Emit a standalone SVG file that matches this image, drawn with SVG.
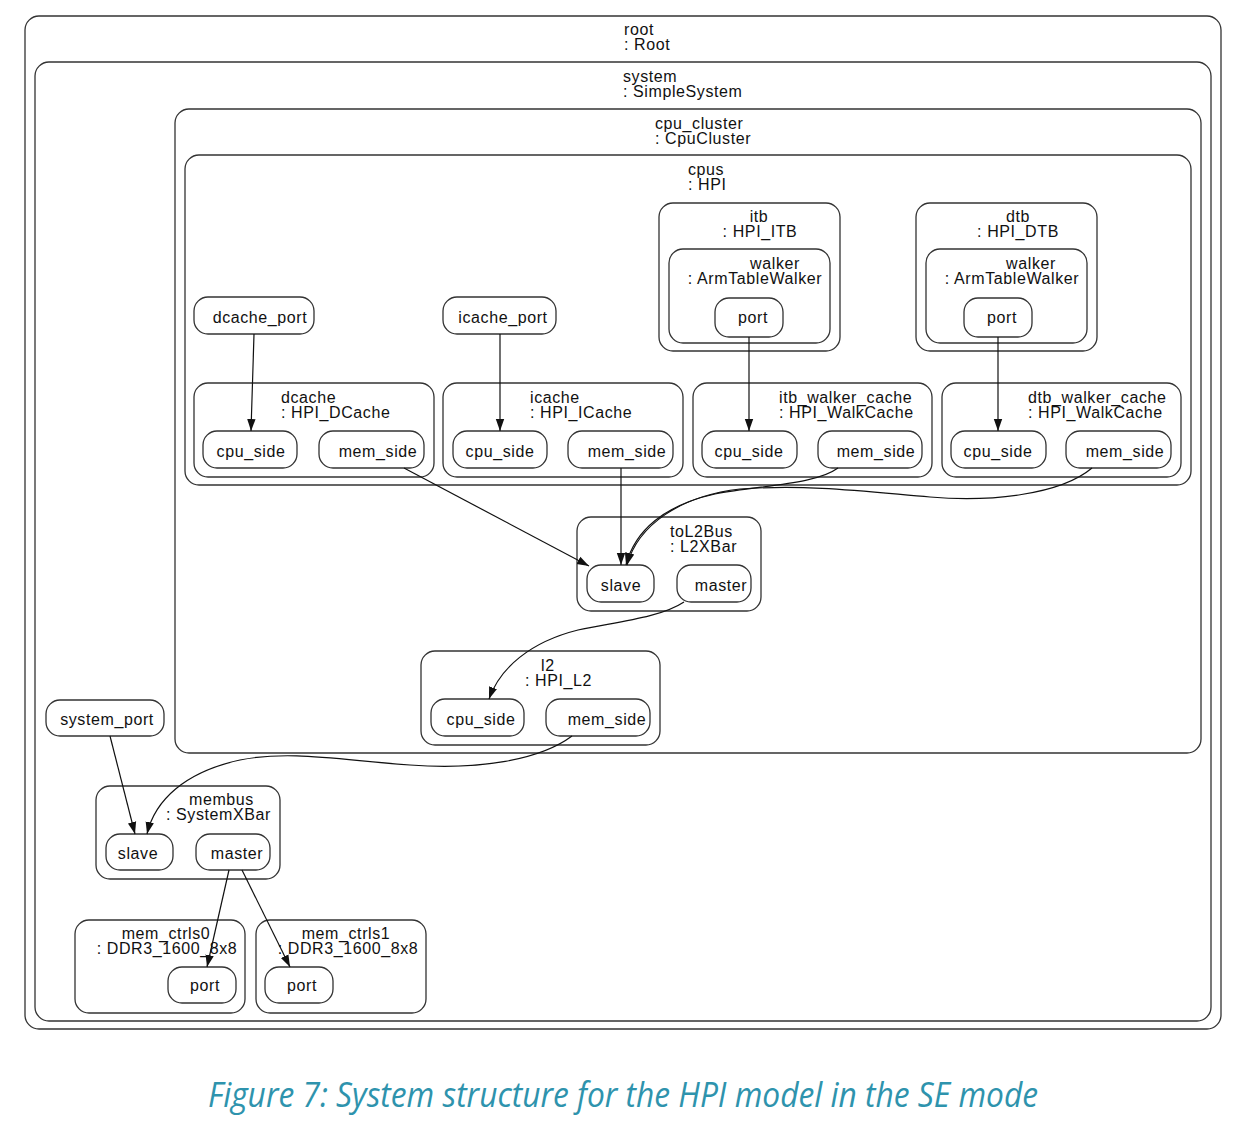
<svg xmlns="http://www.w3.org/2000/svg" width="1240" height="1130" viewBox="0 0 1240 1130">
<defs>
<style>
.c{fill:none;stroke:#333;stroke-width:1.3}
.p{fill:#fff;stroke:#333;stroke-width:1.3}
text{font-family:"Liberation Sans",Arial,sans-serif;font-size:16px;letter-spacing:0.6px;fill:#111}
.m{text-anchor:middle}
.e{fill:none;stroke:#111;stroke-width:1.2}
.cap{font-family:"Open Sans","Liberation Sans",sans-serif;font-style:italic;font-size:35px;letter-spacing:0;fill:#2e93ad}
</style>
<marker id="a" viewBox="0 0 12 10" refX="12" refY="5" markerWidth="12" markerHeight="10" markerUnits="userSpaceOnUse" orient="auto">
<path d="M0,0.8 L12,5 L0,9.2 Z" fill="#111"/>
</marker>
</defs>
<rect width="1240" height="1130" fill="#fff"/>

<g id="root"><rect class="c" x="25" y="16" width="1196" height="1013" rx="14"/>
<text x="624" y="35">root</text><text x="624" y="50">: Root</text></g>
<g id="system"><rect class="c" x="35" y="62" width="1176" height="959" rx="14"/>
<text x="623" y="82">system</text><text x="623" y="97">: SimpleSystem</text></g>
<g id="cpu_cluster"><rect class="c" x="175" y="109" width="1026" height="644" rx="14"/>
<text x="655" y="129">cpu_cluster</text><text x="655" y="144">: CpuCluster</text></g>
<g id="cpus"><rect class="c" x="185" y="155" width="1006" height="330" rx="14"/>
<text x="688" y="175">cpus</text><text x="688" y="190">: HPI</text></g>

<g id="itb"><rect class="c" x="659" y="203" width="181" height="148" rx="14"/>
<text class="m" x="759" y="222">itb</text><text class="m" x="760" y="237">: HPI_ITB</text>
<g id="itb_walker"><rect class="c" x="669" y="249" width="161" height="94" rx="14"/>
<text class="m" x="775" y="269">walker</text><text class="m" x="755" y="284">: ArmTableWalker</text>
<g id="itb_walker_port"><rect class="p" x="715" y="298" width="68" height="39" rx="14"/><text class="m" x="753" y="323">port</text></g></g></g>

<g id="dtb"><rect class="c" x="916" y="203" width="181" height="148" rx="14"/>
<text class="m" x="1018" y="222">dtb</text><text class="m" x="1018" y="237">: HPI_DTB</text>
<g id="dtb_walker"><rect class="c" x="926" y="249" width="161" height="94" rx="14"/>
<text class="m" x="1031" y="269">walker</text><text class="m" x="1012" y="284">: ArmTableWalker</text>
<g id="dtb_walker_port"><rect class="p" x="964" y="298" width="68" height="39" rx="14"/><text class="m" x="1002" y="323">port</text></g></g></g>

<g id="dcache_port"><rect class="p" x="194" y="297" width="120" height="37" rx="14"/><text class="m" x="260" y="323">dcache_port</text></g>
<g id="icache_port"><rect class="p" x="443" y="297" width="113" height="37" rx="14"/><text class="m" x="503" y="323">icache_port</text></g>

<g id="dcache"><rect class="c" x="194" y="383" width="240" height="94" rx="14"/>
<text x="281" y="403">dcache</text><text x="281" y="418">: HPI_DCache</text>
<g id="dcache_cpu_side"><rect class="p" x="203" y="431" width="94" height="37" rx="14"/><text class="m" x="251" y="457">cpu_side</text></g>
<g id="dcache_mem_side"><rect class="p" x="319" y="431" width="105" height="37" rx="14"/><text class="m" x="378" y="457">mem_side</text></g></g>

<g id="icache"><rect class="c" x="443" y="383" width="240" height="94" rx="14"/>
<text x="530" y="403">icache</text><text x="530" y="418">: HPI_ICache</text>
<g id="icache_cpu_side"><rect class="p" x="453" y="431" width="94" height="37" rx="14"/><text class="m" x="500" y="457">cpu_side</text></g>
<g id="icache_mem_side"><rect class="p" x="568" y="431" width="105" height="37" rx="14"/><text class="m" x="627" y="457">mem_side</text></g></g>

<g id="itb_walker_cache"><rect class="c" x="693" y="383" width="239" height="94" rx="14"/>
<text x="779" y="403">itb_walker_cache</text><text x="779" y="418">: HPI_WalkCache</text>
<g id="itb_walker_cache_cpu_side"><rect class="p" x="702" y="431" width="95" height="37" rx="14"/><text class="m" x="749" y="457">cpu_side</text></g>
<g id="itb_walker_cache_mem_side"><rect class="p" x="818" y="431" width="104" height="37" rx="14"/><text class="m" x="876" y="457">mem_side</text></g></g>

<g id="dtb_walker_cache"><rect class="c" x="942" y="383" width="239" height="94" rx="14"/>
<text x="1028" y="403">dtb_walker_cache</text><text x="1028" y="418">: HPI_WalkCache</text>
<g id="dtb_walker_cache_cpu_side"><rect class="p" x="951" y="431" width="95" height="37" rx="14"/><text class="m" x="998" y="457">cpu_side</text></g>
<g id="dtb_walker_cache_mem_side"><rect class="p" x="1066" y="431" width="105" height="37" rx="14"/><text class="m" x="1125" y="457">mem_side</text></g></g>

<g id="toL2Bus"><rect class="c" x="577" y="517" width="184" height="94" rx="14"/>
<text x="670" y="537">toL2Bus</text><text x="670" y="552">: L2XBar</text>
<g id="toL2Bus_slave"><rect class="p" x="587" y="565" width="67" height="37" rx="14"/><text class="m" x="621" y="591">slave</text></g>
<g id="toL2Bus_master"><rect class="p" x="677" y="565" width="74" height="37" rx="14"/><text class="m" x="721" y="591">master</text></g></g>

<g id="l2"><rect class="c" x="421" y="651" width="239" height="94" rx="14"/>
<text x="541" y="671">l2</text><text x="525" y="686">: HPI_L2</text>
<g id="l2_cpu_side"><rect class="p" x="431" y="699" width="93" height="37" rx="14"/><text class="m" x="481" y="725">cpu_side</text></g>
<g id="l2_mem_side"><rect class="p" x="546" y="699" width="104" height="37" rx="14"/><text class="m" x="607" y="725">mem_side</text></g></g>

<g id="system_port"><rect class="p" x="46" y="700" width="118" height="36" rx="14"/><text class="m" x="107" y="725">system_port</text></g>

<g id="membus"><rect class="c" x="96" y="786" width="184" height="93" rx="14"/>
<text x="189" y="805">membus</text><text x="166" y="820">: SystemXBar</text>
<g id="membus_slave"><rect class="p" x="106" y="834" width="67" height="36" rx="14"/><text class="m" x="138" y="859">slave</text></g>
<g id="membus_master"><rect class="p" x="196" y="834" width="74" height="36" rx="14"/><text class="m" x="237" y="859">master</text></g></g>

<g id="mem_ctrls0"><rect class="c" x="75" y="920" width="170" height="93" rx="14"/>
<text class="m" x="166" y="939">mem_ctrls0</text><text class="m" x="167" y="954">: DDR3_1600_8x8</text>
<g id="mem_ctrls0_port"><rect class="p" x="168" y="967" width="68" height="36" rx="14"/><text class="m" x="205" y="991">port</text></g></g>

<g id="mem_ctrls1"><rect class="c" x="256" y="920" width="170" height="93" rx="14"/>
<text class="m" x="346" y="939">mem_ctrls1</text><text class="m" x="348" y="954">: DDR3_1600_8x8</text>
<g id="mem_ctrls1_port"><rect class="p" x="265" y="967" width="68" height="36" rx="14"/><text class="m" x="302" y="991">port</text></g></g>

<g id="connectors">
<path class="e" marker-end="url(#a)" d="M254,334 L251,431"/>
<path class="e" marker-end="url(#a)" d="M500,334 L500,431"/>
<path class="e" marker-end="url(#a)" d="M749,337 L749,431"/>
<path class="e" marker-end="url(#a)" d="M998,337 L998,431"/>
<path class="e" marker-end="url(#a)" d="M404,468 L589,566"/>
<path class="e" marker-end="url(#a)" d="M621,468 L621,565"/>
<path class="e" marker-end="url(#a)" d="M838,468 C815,485 760,485 715,494 C665,505 635,530 626,565"/>
<path class="e" marker-end="url(#a)" d="M1092,468 C1060,495 990,502 930,497 C870,492 810,484 740,489 C680,496 638,525 627,565"/>
<path class="e" marker-end="url(#a)" d="M684,602 C660,618 615,622 578,630 C530,642 500,668 489,699"/>
<path class="e" marker-end="url(#a)" d="M572,736 C540,760 480,770 410,765 C340,760 290,750 240,760 C185,772 155,800 147,834"/>
<path class="e" marker-end="url(#a)" d="M110,736 L135,834"/>
<path class="e" marker-end="url(#a)" d="M229,870 L207,967"/>
<path class="e" marker-end="url(#a)" d="M242,870 L290,967"/>
</g>

<text class="cap" x="208" y="1107" textLength="830" lengthAdjust="spacingAndGlyphs">Figure 7: System structure for the HPI model in the SE mode</text>
</svg>
